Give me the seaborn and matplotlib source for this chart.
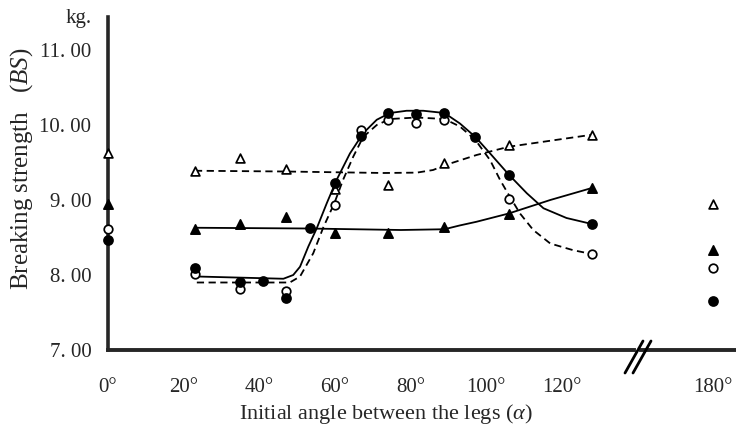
import numpy as np
import pandas as pd
import matplotlib
matplotlib.use("Agg")
import matplotlib.pyplot as plt
import seaborn as sns
from matplotlib.lines import Line2D

# ---------------- data ----------------
# filled circles
fc_x = [0, 23, 35, 41, 47, 53.5, 60, 67, 74, 81.5, 89, 97, 106, 128, 180]
fc_y = [8.47, 8.09, 7.91, 7.92, 7.70, 8.63, 9.23, 9.86, 10.16, 10.15, 10.16, 9.84, 9.34, 8.68, 7.65]
# open circles
oc_x = [0, 23, 35, 47, 60, 67, 74, 81.5, 89, 106, 128, 180]
oc_y = [8.61, 8.01, 7.82, 7.79, 8.93, 9.94, 10.06, 10.03, 10.07, 9.01, 8.28, 8.10]
# triangles
tri_x = [0, 23, 35, 47, 60, 74, 89, 106, 128, 180]
ot_y = [9.63, 9.38, 9.56, 9.41, 9.15, 9.20, 9.49, 9.73, 9.87, 8.95]   # open triangles
ft_y = [8.95, 8.62, 8.68, 8.77, 8.56, 8.56, 8.64, 8.82, 9.16, 8.33]   # filled triangles

# hand-drawn fitted curves (knots)
fc_curve_x = [23.5, 46.4, 49.0, 50.8, 53.0, 55.2, 57.9, 60.5, 64.0, 67.5, 71.1, 74.6, 79.0,
              83.4, 89.0, 93.1, 97.2, 101.1, 106.0, 110.8, 115.2, 121.3, 128.0]
fc_curve_y = [7.98, 7.95, 8.00, 8.11, 8.38, 8.62, 8.96, 9.27, 9.62, 9.89, 10.07, 10.16, 10.19,
              10.19, 10.16, 10.02, 9.84, 9.62, 9.34, 9.09, 8.89, 8.76, 8.68]
oc_curve_x = [23.5, 48.1, 50.8, 54.3, 57.0, 59.9, 62.2, 64.9, 67.5, 71.1, 74.6, 81.7, 89.0,
              93.1, 97.2, 101.1, 103.7, 106.0, 109.0, 112.5, 117.0, 123.1, 128.0]
oc_curve_y = [7.90, 7.90, 7.98, 8.29, 8.64, 8.96, 9.27, 9.58, 9.84, 10.00, 10.08, 10.10, 10.08,
              9.98, 9.80, 9.53, 9.27, 9.07, 8.82, 8.60, 8.42, 8.33, 8.28]
ot_curve_x = [23, 35, 47, 60, 73, 81.7, 86, 89.5, 97.5, 106, 117, 128]
ot_curve_y = [9.39, 9.385, 9.38, 9.37, 9.36, 9.365, 9.40, 9.47, 9.60, 9.71, 9.79, 9.87]
ft_curve_x = [23, 53, 77.5, 89, 93, 97.5, 106, 117, 128]
ft_curve_y = [8.63, 8.62, 8.60, 8.61, 8.66, 8.71, 8.82, 9.00, 9.16]

y_ticks = [7, 8, 9, 10, 11]
y_tick_labels = ["7. 00", "8. 00", "9. 00", "10. 00", "11. 00"]
x_ticks = [0, 20, 40, 60, 80, 100, 120]
x_tick_labels = ["0°", "20°", "40°", "60°", "80°", "100°", "120°"]
far_tick = [180]
far_tick_label = ["180°"]

# ---------------- style ----------------
sns.set_style("white")
plt.rcParams["font.family"] = ["Liberation Serif", "DejaVu Serif"]
plt.rcParams["mathtext.fontset"] = "custom"
plt.rcParams["mathtext.rm"] = "Liberation Serif"
plt.rcParams["mathtext.it"] = "Liberation Serif:italic"

W, H = 736, 430
fig = plt.figure(figsize=(W / 100, H / 100), dpi=100)
px = 3.78   # pixels per degree
x0 = 108
left_right_px = 634
right_left_px = 641
y_bot, y_top = 350, 17
ax = fig.add_axes([x0 / W, 1 - y_bot / H, (left_right_px - x0) / W, (y_bot - y_top) / H])
ax2 = fig.add_axes([right_left_px / W, 1 - y_bot / H, (W - right_left_px) / W, (y_bot - y_top) / H])

ylim = (7.0, 10 + (125 - y_top) / 75.0)
ax.set_xlim(0, (left_right_px - x0) / px)
ax2.set_xlim(180 - (712.7 - right_left_px) / px, 180 + (W - 712.7) / px)
for a in (ax, ax2):
    a.set_ylim(*ylim)
    a.set_facecolor("none")

def points(a, xs, ys, marker, filled, size):
    df = pd.DataFrame({"x": xs, "y": ys})
    sns.scatterplot(data=df, x="x", y="y", ax=a, marker=marker, s=size,
                    color="black" if filled else "white", edgecolor="black",
                    linewidth=1.25, zorder=5, clip_on=False, legend=False)

def curve(a, xs, ys, dashed):
    df = pd.DataFrame({"x": xs, "y": ys})
    sns.lineplot(data=df, x="x", y="y", ax=a, color="black", lw=1.3, sort=False,
                 estimator=None, zorder=3,
                 linestyle=(0, (4.0, 2.5)) if dashed else "-")

curve(ax, ot_curve_x, ot_curve_y, True)
curve(ax, ft_curve_x, ft_curve_y, False)
curve(ax, oc_curve_x, oc_curve_y, True)
curve(ax, fc_curve_x, fc_curve_y, False)

series = [(tri_x, ot_y, "^", False, 40), (tri_x, ft_y, "^", True, 44),
          (oc_x, oc_y, "o", False, 38), (fc_x, fc_y, "o", True, 42)]
for xs, ys, m, f, s in series:
    xs = np.asarray(xs, float); ys = np.asarray(ys, float)
    near = xs < 150
    points(ax, xs[near], ys[near], m, f, s)
    points(ax2, xs[~near], ys[~near], m, f, s)

# spines
for a in (ax, ax2):
    for side in ("top", "right"):
        a.spines[side].set_visible(False)
    a.spines["bottom"].set_linewidth(2.8)
    a.set_xlabel("")
    a.set_ylabel("")
ax.spines["left"].set_linewidth(2.6)
ax2.spines["left"].set_visible(False)

# ticks
ax.set_yticks(np.arange(7.0, 11.01, 0.5), minor=True)
ax.set_yticks(y_ticks)
ax.set_yticklabels(y_tick_labels, fontsize=15)
ax.set_xticks(np.arange(0, 131, 10), minor=True)
ax.set_xticks(x_ticks)
ax.set_xticklabels(x_tick_labels, fontsize=15)
ax.tick_params(axis="both", which="both", direction="in", length=5, width=1.1, color="black")
ax.tick_params(axis="y", which="both", pad=12)
ax.tick_params(axis="x", which="both", pad=20)
ax2.set_yticks([])
ax2.set_xticks([170], minor=True)
ax2.set_xticks(far_tick)
ax2.set_xticklabels(far_tick_label, fontsize=15)
ax2.tick_params(axis="x", which="both", direction="in", length=5, width=1.1, pad=20)

# axis break marks
for dx in (0, 8):
    fig.add_artist(Line2D([(625 + dx) / W, (643 + dx) / W], [1 - 373 / H, 1 - 341 / H],
                          color="black", lw=2.0))

# labels
fig.text(79 / W, 1 - 19 / H, "kg.", fontsize=15, ha="center", va="center")
fig.text(22 / W, 1 - 169 / H, "Breaking strength   ($BS$)", fontsize=18, rotation=90,
         ha="center", va="center")
fig.text(386 / W, 1 - 414 / H, r"Initial angle between the legs ($\alpha$)", fontsize=16,
         ha="center", va="center")

fig.savefig("out.png", dpi=100)
